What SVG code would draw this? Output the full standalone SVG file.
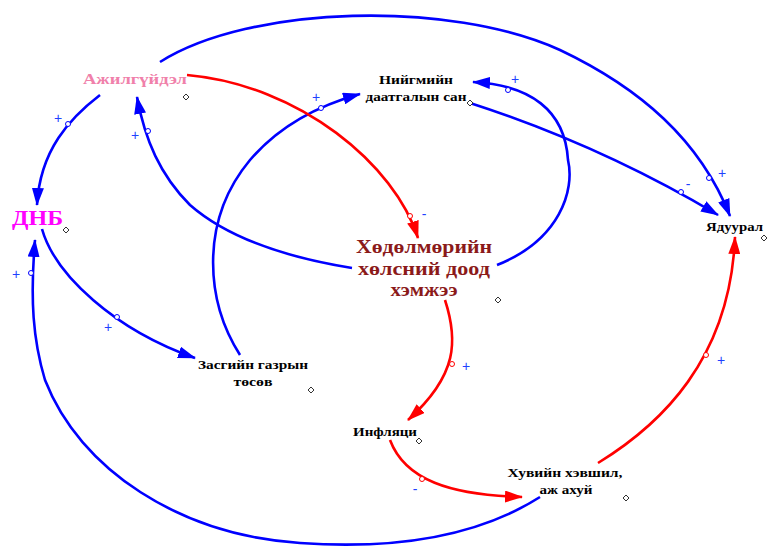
<svg xmlns="http://www.w3.org/2000/svg" width="767" height="548" viewBox="0 0 767 548">
<style>
.b{fill:none;stroke:#0000ff;stroke-width:2.6}
.r{fill:none;stroke:#ff0000;stroke-width:2.6}
.cb{fill:#fff;stroke:#0000ff;stroke-width:1}
.cr{fill:#fff;stroke:#ff0000;stroke-width:1}
.t{font-family:"Liberation Serif","Times New Roman",serif;font-weight:bold}
.k{fill:#000;font-size:13px}
.pol{font-family:"Liberation Sans",Arial,sans-serif;font-size:14px;fill:#2040ff;text-anchor:middle}
.d{fill:#fff;stroke:#333;stroke-width:1}
</style>
<defs>
<marker id="ab" viewBox="0 0 18 12" refX="17" refY="6" markerWidth="18" markerHeight="12" markerUnits="userSpaceOnUse" orient="auto"><path d="M0,0 L18,6 L0,12 z" fill="#0000ff"/></marker>
<marker id="ar" viewBox="0 0 18 12" refX="17" refY="6" markerWidth="18" markerHeight="12" markerUnits="userSpaceOnUse" orient="auto"><path d="M0,0 L18,6 L0,12 z" fill="#ff0000"/></marker>
<path id="dm" d="M0,-3 L3,0 L0,3 L-3,0 z"/>
</defs>
<g id="connectors">
<path class="b" marker-end="url(#ab)" d="M100,95 C70,118 40,150 37,205"/>
<path class="b" marker-end="url(#ab)" d="M42,229 C55,275 115,330 195,358"/>
<path class="b" marker-end="url(#ab)" d="M540,497 C480,535 400,550 300,543 C180,535 80,470 45,380 C33,340 30,300 35,240"/>
<path class="b" marker-end="url(#ab)" d="M240,355 C205,300 200,220 250,160 C280,125 320,105 360,94"/>
<path class="b" marker-end="url(#ab)" d="M352,268 C290,258 230,240 190,205 C160,175 145,140 137,97"/>
<path class="b" marker-end="url(#ab)" d="M497,265 C560,240 575,190 568,160 C565,110 530,85 473,82"/>
<path class="b" marker-end="url(#ab)" d="M470,103 Q600,145 718,215"/>
<path class="b" marker-end="url(#ab)" d="M160,62 C250,5 450,0 560,50 C640,88 700,140 730,216"/>
<path class="r" marker-end="url(#ar)" d="M187,75 C300,85 395,165 418,238"/>
<path class="r" marker-end="url(#ar)" d="M445,300 C458,340 458,375 408,420"/>
<path class="r" marker-end="url(#ar)" d="M390,440 C405,480 450,495 522,497"/>
<path class="r" marker-end="url(#ar)" d="M598,463 C660,425 730,360 735,237"/>
<circle class="cb" cx="68" cy="124" r="2.5"/>
<circle class="cb" cx="117" cy="317" r="2.5"/>
<circle class="cb" cx="31" cy="273" r="2.5"/>
<circle class="cb" cx="321" cy="108" r="2.5"/>
<circle class="cb" cx="148" cy="131" r="2.5"/>
<circle class="cb" cx="508" cy="90" r="2.5"/>
<circle class="cb" cx="681" cy="192" r="2.5"/>
<circle class="cb" cx="709" cy="178" r="2.5"/>
<circle class="cr" cx="410" cy="216" r="2.5"/>
<circle class="cr" cx="452" cy="364" r="2.5"/>
<circle class="cr" cx="422" cy="479" r="2.5"/>
<circle class="cr" cx="706" cy="355" r="2.5"/>
<text class="pol" x="58" y="123">+</text>
<text class="pol" x="135" y="140">+</text>
<text class="pol" x="108" y="332">+</text>
<text class="pol" x="16" y="279">+</text>
<text class="pol" x="316" y="102">+</text>
<text class="pol" x="515" y="84">+</text>
<text class="pol" x="688" y="189">-</text>
<text class="pol" x="722" y="178">+</text>
<text class="pol" x="424" y="219">-</text>
<text class="pol" x="466" y="371">+</text>
<text class="pol" x="415" y="494">-</text>
<text class="pol" x="721" y="365">+</text>
</g>
<g id="ajilguidel">
<text class="t" x="135" y="84" font-size="15" fill="#f080aa" text-anchor="middle" textLength="104" lengthAdjust="spacingAndGlyphs">Ажилгүйдэл</text>
<use href="#dm" x="186" y="97" class="d"/>
</g>
<g id="dnb">
<text class="t" x="12" y="225" font-size="21" fill="#ff00ff" textLength="51" lengthAdjust="spacingAndGlyphs">ДНБ</text>
<use href="#dm" x="66" y="230" class="d"/>
</g>
<g id="niigmiin">
<text class="t k" x="416" y="84" text-anchor="middle" textLength="74" lengthAdjust="spacingAndGlyphs">Нийгмийн</text>
<text class="t k" x="416" y="101" text-anchor="middle" textLength="101" lengthAdjust="spacingAndGlyphs">даатгалын сан</text>
<use href="#dm" x="470" y="103" class="d"/>
</g>
<g id="hodolmor">
<text class="t" x="424" y="253" font-size="18" fill="#8b1a1a" text-anchor="middle" textLength="136" lengthAdjust="spacingAndGlyphs">Хөдөлмөрийн</text>
<text class="t" x="424" y="275" font-size="18" fill="#8b1a1a" text-anchor="middle" textLength="132" lengthAdjust="spacingAndGlyphs">хөлсний доод</text>
<text class="t" x="424" y="296" font-size="18" fill="#8b1a1a" text-anchor="middle" textLength="67" lengthAdjust="spacingAndGlyphs">хэмжээ</text>
<use href="#dm" x="498" y="300" class="d"/>
</g>
<g id="zasgiin">
<text class="t k" x="253" y="369" text-anchor="middle" textLength="110" lengthAdjust="spacingAndGlyphs">Засгийн газрын</text>
<text class="t k" x="253" y="386" text-anchor="middle" textLength="39" lengthAdjust="spacingAndGlyphs">төсөв</text>
<use href="#dm" x="311" y="390" class="d"/>
</g>
<g id="infliats">
<text class="t k" x="353" y="436" textLength="64" lengthAdjust="spacingAndGlyphs">Инфляци</text>
<use href="#dm" x="419" y="441" class="d"/>
</g>
<g id="huviin">
<text class="t k" x="565" y="477" text-anchor="middle" textLength="115" lengthAdjust="spacingAndGlyphs">Хувийн хэвшил,</text>
<text class="t k" x="566" y="494" text-anchor="middle" textLength="53" lengthAdjust="spacingAndGlyphs">аж ахуй</text>
<use href="#dm" x="626" y="498" class="d"/>
</g>
<g id="yaduural">
<text class="t k" x="706" y="231" textLength="57" lengthAdjust="spacingAndGlyphs">Ядуурал</text>
<use href="#dm" x="764" y="238" class="d"/>
</g>
</svg>
